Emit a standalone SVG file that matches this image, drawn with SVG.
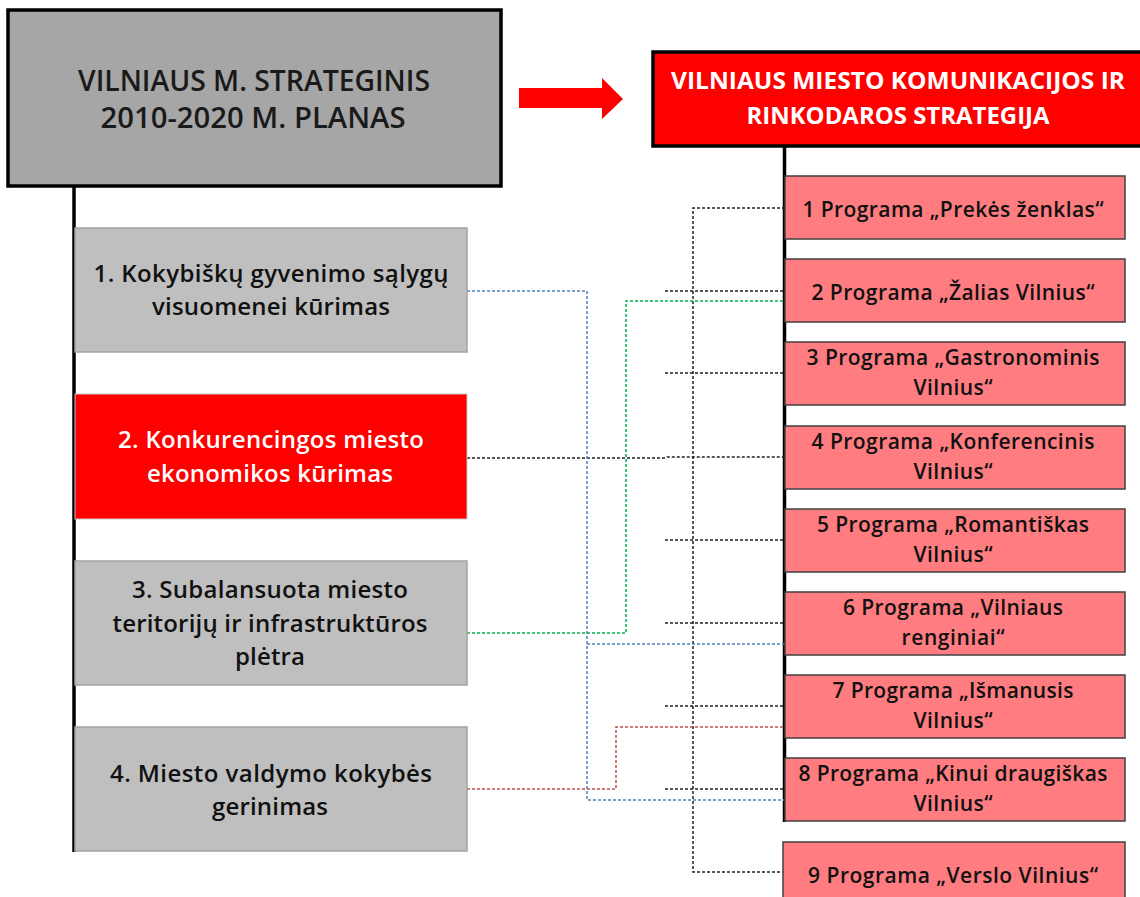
<svg xmlns="http://www.w3.org/2000/svg" width="1140" height="897" viewBox="0 0 1140 897">
<style>
  text { font-family: "Open Sans", "Liberation Sans", "DejaVu Sans", sans-serif; text-anchor: middle; }
  .title { font-size: 29px; font-weight: 600; fill: #1a1a1a; }
  .redtitle { font-size: 23px; font-weight: 700; fill: #fff; }
  .goal { font-size: 24px; font-weight: 600; fill: #111; }
  .goalw { font-size: 24px; font-weight: 600; fill: #fff; }
  .prog { font-size: 21px; font-weight: 600; fill: #111; }
  .gbox { fill: #bfbfbf; stroke: #a3a3a3; stroke-width: 1.5; }
  .rbox { fill: #ff0000; stroke: #c8c8c8; stroke-width: 1; }
  .pbox { fill: #ff7c80; stroke: #404040; stroke-width: 1.5; }
  .trunk { stroke: #000; stroke-width: 3.5; fill: none; }
  .dash { fill: none; stroke-width: 1.5; stroke-dasharray: 3 2; }
  .k { stroke: #222; }
  .b { stroke: #4f81bd; }
  .g { stroke: #00b050; }
  .r { stroke: #c0504d; }
</style>
<rect width="1140" height="897" fill="#fff"/>

<g id="trunks">
  <line class="trunk" x1="74" y1="186" x2="74" y2="852"/>
  <line class="trunk" x1="784.5" y1="146" x2="784.5" y2="822"/>
</g>

<g id="connectors">
  <path class="dash k" d="M785,208 H693 V872 H785"/>
  <path class="dash k" d="M665,291 H785 M665,373 H785 M665,540 H785 M665,623 H785 M665,706 H785 M665,789 H785"/>
  <path class="dash k" d="M467,458 H665 L667,457 H785"/>
  <path class="dash b" d="M467,291 H587 V800 H785 M587,644 H785"/>
  <path class="dash g" d="M467,633 H626 V301 H785"/>
  <path class="dash r" d="M467,789 H616 V727 H785"/>
</g>

<g id="plan">
  <rect x="8" y="10" width="493" height="176" fill="#a6a6a6" stroke="#000" stroke-width="3.5"/>
  <text class="title" x="254" y="91" textLength="352" lengthAdjust="spacingAndGlyphs">VILNIAUS M. STRATEGINIS</text>
  <text class="title" x="253" y="128" textLength="305" lengthAdjust="spacingAndGlyphs">2010-2020 M. PLANAS</text>
</g>

<g id="arrow">
  <polygon points="519,88 602,88 602,78 623,99 602,119 602,108 519,108" fill="#ff0000"/>
</g>

<g id="strategy">
  <rect x="653" y="52" width="492" height="94" fill="#ff0000" stroke="#000" stroke-width="3.5"/>
  <text class="redtitle" x="898" y="89" textLength="454" lengthAdjust="spacingAndGlyphs">VILNIAUS MIESTO KOMUNIKACIJOS IR</text>
  <text class="redtitle" x="898" y="124" textLength="303" lengthAdjust="spacingAndGlyphs">RINKODAROS STRATEGIJA</text>
</g>

<g id="goal1">
  <rect class="gbox" x="75" y="228" width="392" height="124"/>
  <text class="goal" x="271" y="282" textLength="355" lengthAdjust="spacing">1. Kokybiškų gyvenimo sąlygų</text>
  <text class="goal" x="271" y="315" textLength="238" lengthAdjust="spacing">visuomenei kūrimas</text>
</g>
<g id="goal2">
  <rect class="rbox" x="75" y="394" width="392" height="125"/>
  <text class="goalw" x="271" y="448" textLength="306" lengthAdjust="spacing">2. Konkurencingos miesto</text>
  <text class="goalw" x="270" y="482" textLength="246" lengthAdjust="spacing">ekonomikos kūrimas</text>
</g>
<g id="goal3">
  <rect class="gbox" x="75" y="561" width="392" height="124"/>
  <text class="goal" x="270" y="598" textLength="276" lengthAdjust="spacing">3. Subalansuota miesto</text>
  <text class="goal" x="270" y="632" textLength="315" lengthAdjust="spacing">teritorijų ir infrastruktūros</text>
  <text class="goal" x="270" y="665" textLength="70" lengthAdjust="spacing">plėtra</text>
</g>
<g id="goal4">
  <rect class="gbox" x="75" y="727" width="392" height="124"/>
  <text class="goal" x="271" y="782" textLength="322" lengthAdjust="spacing">4. Miesto valdymo kokybės</text>
  <text class="goal" x="270" y="815" textLength="116" lengthAdjust="spacing">gerinimas</text>
</g>

<g id="prog1">
  <rect class="pbox" x="785" y="176" width="340" height="63"/>
  <text class="prog" x="953" y="217" textLength="301" lengthAdjust="spacing">1 Programa „Prekės ženklas“</text>
</g>
<g id="prog2">
  <rect class="pbox" x="785" y="259" width="340" height="63"/>
  <text class="prog" x="953" y="300" textLength="283" lengthAdjust="spacing">2 Programa „Žalias Vilnius“</text>
</g>
<g id="prog3">
  <rect class="pbox" x="785" y="342" width="340" height="63"/>
  <text class="prog" x="953" y="365" textLength="293" lengthAdjust="spacing">3 Programa „Gastronominis</text>
  <text class="prog" x="953" y="395" textLength="79" lengthAdjust="spacing">Vilnius“</text>
</g>
<g id="prog4">
  <rect class="pbox" x="785" y="426" width="340" height="63"/>
  <text class="prog" x="953" y="449" textLength="283" lengthAdjust="spacing">4 Programa „Konferencinis</text>
  <text class="prog" x="953" y="479" textLength="79" lengthAdjust="spacing">Vilnius“</text>
</g>
<g id="prog5">
  <rect class="pbox" x="785" y="509" width="340" height="63"/>
  <text class="prog" x="953" y="532" textLength="272" lengthAdjust="spacing">5 Programa „Romantiškas</text>
  <text class="prog" x="953" y="562" textLength="79" lengthAdjust="spacing">Vilnius“</text>
</g>
<g id="prog6">
  <rect class="pbox" x="785" y="592" width="340" height="63"/>
  <text class="prog" x="953" y="615" textLength="220" lengthAdjust="spacing">6 Programa „Vilniaus</text>
  <text class="prog" x="953" y="645" textLength="103" lengthAdjust="spacing">renginiai“</text>
</g>
<g id="prog7">
  <rect class="pbox" x="785" y="675" width="340" height="63"/>
  <text class="prog" x="953" y="698" textLength="241" lengthAdjust="spacing">7 Programa „Išmanusis</text>
  <text class="prog" x="953" y="728" textLength="79" lengthAdjust="spacing">Vilnius“</text>
</g>
<g id="prog8">
  <rect class="pbox" x="785" y="758" width="340" height="63"/>
  <text class="prog" x="953" y="781" textLength="309" lengthAdjust="spacing">8 Programa „Kinui draugiškas</text>
  <text class="prog" x="953" y="811" textLength="79" lengthAdjust="spacing">Vilnius“</text>
</g>
<g id="prog9">
  <rect class="pbox" x="783" y="842" width="342" height="63"/>
  <text class="prog" x="953" y="883" textLength="290" lengthAdjust="spacing">9 Programa „Verslo Vilnius“</text>
</g>
</svg>
